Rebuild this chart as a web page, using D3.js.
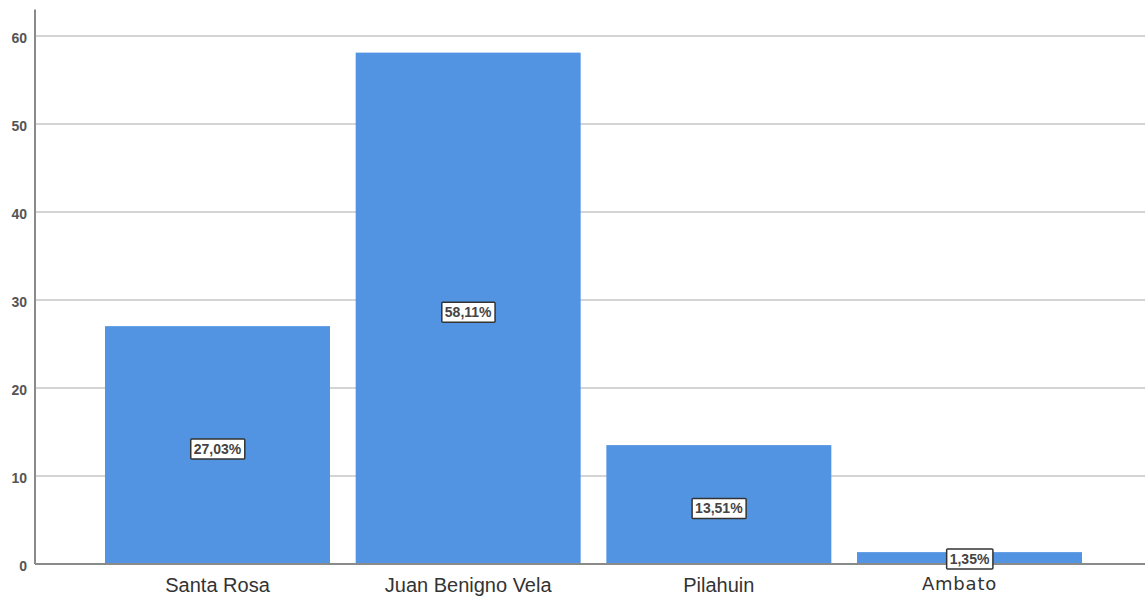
<!DOCTYPE html>
<meta charset="utf-8">
<style>
  body { margin: 0; background: #fff; }
</style>
<div id="chart"></div>
<script src="https://d3js.org/d3.v7.min.js"></script>
<script>

// data
var categories = ["Santa Rosa", "Juan Benigno Vela", "Pilahuin", "Ambato"];
var values = [27.03, 58.11, 13.51, 1.35];
var labels = ["27,03%", "58,11%", "13,51%", "1,35%"];
var yTicks = [0, 10, 20, 30, 40, 50, 60];

var width = 1145, height = 600;

var svg = d3.select("#chart").append("svg")
    .attr("width", width)
    .attr("height", height);

var x = d3.scaleBand()
    .domain(categories)
    .range([105, 1082])
    .paddingInner(0.1025)
    .paddingOuter(0);

var y = d3.scaleLinear()
    .domain([0, 63])
    .range([564, 9.6]);

// gridlines
svg.append("g")
  .selectAll("line")
  .data(yTicks.filter(function(d) { return d > 0; }))
  .enter().append("line")
    .attr("x1", 35)
    .attr("x2", width)
    .attr("y1", function(d) { return y(d); })
    .attr("y2", function(d) { return y(d); })
    .style("stroke", "#d4d4d4")
    .style("stroke-width", 2);

// bars
svg.append("g")
  .selectAll("rect")
  .data(values)
  .enter().append("rect")
    .attr("x", function(d, i) { return x(categories[i]); })
    .attr("y", function(d) { return y(d); })
    .attr("width", x.bandwidth())
    .attr("height", function(d) { return y(0) - y(d); })
    .attr("fill", "#5294e2");

// baseline
svg.append("line")
    .attr("x1", 35).attr("x2", width)
    .attr("y1", y(0)).attr("y2", y(0))
    .style("stroke", "#8a8a8a")
    .style("stroke-width", 2);

var yAxis = svg.append("g")
    .attr("transform", "translate(35,0)")
    .call(d3.axisLeft(y).tickValues(yTicks).tickSize(0).tickPadding(8));
yAxis.select(".domain").remove();
yAxis.append("line")
    .attr("x1", 0).attr("x2", 0)
    .attr("y1", 9.6).attr("y2", y(0))
    .style("stroke", "#8a8a8a")
    .style("stroke-width", 2);
yAxis.selectAll("text")
    .attr("dy", "0.45em")
    .style("font-family", "'Liberation Sans', Arial, sans-serif")
    .style("font-size", "14px")
    .style("font-weight", "600")
    .style("fill", "#555");

// x axis labels
var xAxis = svg.append("g")
    .attr("transform", "translate(0," + y(0) + ")")
    .call(d3.axisBottom(x).tickSize(0).tickPadding(14));
xAxis.select(".domain").remove();
xAxis.selectAll("text")
    .style("font-family", "'Liberation Sans', Arial, sans-serif")
    .style("font-size", "20px")
    .style("fill", "#333");
xAxis.selectAll("text")
    .filter(function(d) { return d === "Ambato"; })
    .attr("dx", -10)
    .attr("y", 13)
    .style("font-family", "'DejaVu Sans', Verdana, sans-serif")
    .style("font-size", "18px")
    .style("letter-spacing", "0.8px");

// percentage labels
var lab = svg.append("g")
  .selectAll("g")
  .data(values)
  .enter().append("g")
    .attr("transform", function(d, i) {
      var cy = Math.min(y(d / 2) + 4, y(0) - 5);
      return "translate(" + (x(categories[i]) + x.bandwidth() / 2) + "," + cy + ")";
    });

lab.append("text")
    .attr("text-anchor", "middle")
    .attr("dy", "0.35em")
    .style("font-family", "'Liberation Sans', Arial, sans-serif")
    .style("font-size", "14px")
    .style("font-weight", "600")
    .style("fill", "#444")
    .text(function(d, i) { return labels[i]; });

lab.each(function() {
  var g = d3.select(this);
  var bb = g.select("text").node().getBBox();
  g.insert("rect", "text")
    .attr("x", bb.x - 3)
    .attr("y", bb.y - 2)
    .attr("width", bb.width + 6)
    .attr("height", bb.height + 4)
    .attr("fill", "#fff")
    .attr("stroke", "#333")
    .attr("stroke-width", 1.5)
    .attr("rx", 1);
});

</script>
